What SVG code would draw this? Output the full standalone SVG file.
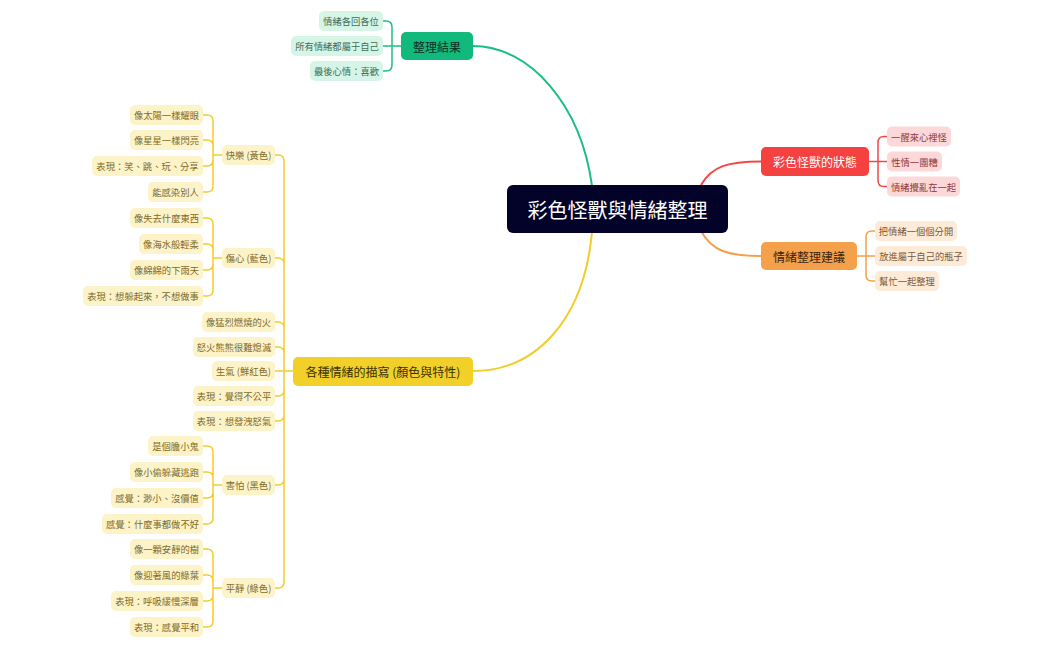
<svg xmlns="http://www.w3.org/2000/svg" width="1050" height="649" viewBox="0 0 1050 649">
<style>
text{font-family:"Noto Sans CJK TC","Noto Sans CJK SC",sans-serif;text-anchor:middle;dominant-baseline:central}
.leaf text{font-size:9.3px}
.l1 text{font-size:12px}
.yl rect{fill:#fdf3c8}.yl text{fill:#7d6a2b}
.gl rect{fill:#d6f5e7}.gl text{fill:#3e6e5a}
.rl rect{fill:#fdd8d8}.rl text{fill:#8f3a3a}
.ol rect{fill:#fdebd8}.ol text{fill:#7a5a3a}
.c{fill:none;stroke-width:1.5;stroke-linecap:round}
.main{fill:none;stroke-width:2}
</style>
<rect width="1050" height="649" fill="#ffffff"/>
<g id="connectors">
<path class="main" stroke="#1cbf82" d="M592 186 C581 105,530 46,473 46"/>
<path class="main" stroke="#f2cd2a" d="M592 232 C584 320,536 371,473 371"/>
<path class="main" stroke="#f04848" d="M701 185 C712 166,728 161.5,761 161.5"/>
<path class="main" stroke="#f5a04a" d="M701 231 C712 251,728 256,761 256"/>
<path class="c" stroke="#1cbf82" d="M401 46 H383 M392 46 V27 Q392 21 386 21 H383 M392 46 V65 Q392 71 386 71 H383"/>
<path class="c" stroke="#f04848" d="M869 161.5 H887 M878 161.5 V142.5 Q878 136.5 884 136.5 H887 M878 161.5 V180.5 Q878 186.5 884 186.5 H887"/>
<path class="c" stroke="#f5a04a" d="M857 256 H875 M866 256 V237 Q866 231 872 231 H875 M866 256 V275 Q866 281 872 281 H875"/>
<path class="c" stroke="#f2cd2a" d="M293 371 H275 M284 371 V161 Q284 155 278 155 H275 M284 371 V264 Q284 258 278 258 H275 M284 371 V328 Q284 322 278 322 H275 M284 371 V353 Q284 347 278 347 H275 M284 371 V390 Q284 396 278 396 H275 M284 371 V415 Q284 421 278 421 H275 M284 371 V479 Q284 485 278 485 H275 M284 371 V582 Q284 588 278 588 H275"/>
<path class="c" stroke="#f2cd2a" d="M222 155 H213 M213 155 V121 Q213 115 207 115 H203 M213 155 V146 Q213 140 207 140 H203 M213 155 V160 Q213 166 207 166 H203 M213 155 V186 Q213 192 207 192 H203"/>
<path class="c" stroke="#f2cd2a" d="M222 258 H213 M213 258 V224 Q213 218 207 218 H203 M213 258 V250 Q213 244 207 244 H203 M213 258 V264 Q213 270 207 270 H203 M213 258 V290 Q213 296 207 296 H203"/>
<path class="c" stroke="#f2cd2a" d="M222 485 H213 M213 485 V452 Q213 446 207 446 H203 M213 485 V478 Q213 472 207 472 H203 M213 485 V492 Q213 498 207 498 H203 M213 485 V518 Q213 524 207 524 H203"/>
<path class="c" stroke="#f2cd2a" d="M222 588 H213 M213 588 V555 Q213 549 207 549 H203 M213 588 V581 Q213 575 207 575 H203 M213 588 V595 Q213 601 207 601 H203 M213 588 V621 Q213 627 207 627 H203"/>
</g>
<g id="root"><rect x="507" y="185" width="221" height="48" rx="6" fill="#03032a"/><text x="617.5" y="209.5" font-size="20" fill="#ffffff">彩色怪獸與情緒整理</text></g>
<g id="n-result" class="l1"><rect x="401" y="32" width="72" height="28" rx="5" fill="#12b97c"/><text x="437" y="46" fill="#0d2e22">整理結果</text></g>
<g id="n-state" class="l1"><rect x="761" y="147" width="108" height="29" rx="5" fill="#f5413f"/><text x="815" y="161.5" fill="#ffffff">彩色怪獸的狀態</text></g>
<g id="n-advice" class="l1"><rect x="761" y="242" width="96" height="28" rx="5" fill="#f5a04a"/><text x="809" y="256" fill="#3a2510">情緒整理建議</text></g>
<g id="n-desc" class="l1"><rect x="293" y="357" width="180" height="29" rx="5" fill="#f1d02a"/><text x="383" y="371.5" fill="#3a3000">各種情緒的描寫 (顏色與特性)</text></g>

<g id="g1" class="leaf gl"><rect x="319" y="11" width="64" height="20" rx="5"/><text x="351" y="21">情緒各回各位</text></g>
<g id="g2" class="leaf gl"><rect x="291" y="36" width="92" height="20" rx="5"/><text x="337" y="46">所有情緒都屬于自己</text></g>
<g id="g3" class="leaf gl"><rect x="310" y="61" width="73" height="20" rx="5"/><text x="346.5" y="71">最後心情：喜歡</text></g>

<g id="r1" class="leaf rl"><rect x="887" y="126.5" width="64" height="20" rx="5"/><text x="919" y="136.5">一醒來心裡怪</text></g>
<g id="r2" class="leaf rl"><rect x="887" y="151.5" width="55" height="20" rx="5"/><text x="914.5" y="161.5">性情一團糟</text></g>
<g id="r3" class="leaf rl"><rect x="887" y="176.5" width="73" height="20" rx="5"/><text x="923.5" y="186.5">情緒攪亂在一起</text></g>

<g id="o1" class="leaf ol"><rect x="875" y="221" width="82" height="20" rx="5"/><text x="916" y="231">把情緒一個個分開</text></g>
<g id="o2" class="leaf ol"><rect x="875" y="246" width="92" height="20" rx="5"/><text x="921" y="256">放進屬于自己的瓶子</text></g>
<g id="o3" class="leaf ol"><rect x="875" y="271" width="64" height="20" rx="5"/><text x="907" y="281">幫忙一起整理</text></g>

<g id="happy" class="leaf yl"><rect x="222" y="145" width="53" height="20" rx="5"/><text x="248.5" y="155">快樂 (黃色)</text></g>
<g id="h1" class="leaf yl"><rect x="130" y="105" width="73" height="20" rx="5"/><text x="166.5" y="115">像太陽一樣耀眼</text></g>
<g id="h2" class="leaf yl"><rect x="130" y="130" width="73" height="20" rx="5"/><text x="166.5" y="140">像星星一樣閃亮</text></g>
<g id="h3" class="leaf yl"><rect x="92" y="156" width="111" height="20" rx="5"/><text x="147.5" y="166">表現：笑、跳、玩、分享</text></g>
<g id="h4" class="leaf yl"><rect x="148" y="182" width="55" height="20" rx="5"/><text x="175.5" y="192">能感染別人</text></g>

<g id="sad" class="leaf yl"><rect x="222" y="248" width="53" height="20" rx="5"/><text x="248.5" y="258">傷心 (藍色)</text></g>
<g id="s1" class="leaf yl"><rect x="130" y="208" width="73" height="20" rx="5"/><text x="166.5" y="218">像失去什麼東西</text></g>
<g id="s2" class="leaf yl"><rect x="139" y="234" width="64" height="20" rx="5"/><text x="171" y="244">像海水般輕柔</text></g>
<g id="s3" class="leaf yl"><rect x="130" y="260" width="73" height="20" rx="5"/><text x="166.5" y="270">像綿綿的下雨天</text></g>
<g id="s4" class="leaf yl"><rect x="83" y="286" width="120" height="20" rx="5"/><text x="143" y="296">表現：想躲起來，不想做事</text></g>

<g id="a1" class="leaf yl"><rect x="202" y="312" width="73" height="20" rx="5"/><text x="238.5" y="322">像猛烈燃燒的火</text></g>
<g id="a2" class="leaf yl"><rect x="193" y="337" width="82" height="20" rx="5"/><text x="234" y="347">怒火熊熊很難熄滅</text></g>
<g id="angry" class="leaf yl"><rect x="212" y="361" width="63" height="20" rx="5"/><text x="243.5" y="371">生氣 (鮮紅色)</text></g>
<g id="a3" class="leaf yl"><rect x="193" y="386" width="82" height="20" rx="5"/><text x="234" y="396">表現：覺得不公平</text></g>
<g id="a4" class="leaf yl"><rect x="193" y="411" width="82" height="20" rx="5"/><text x="234" y="421">表現：想發洩怒氣</text></g>

<g id="fear" class="leaf yl"><rect x="222" y="475" width="53" height="20" rx="5"/><text x="248.5" y="485">害怕 (黑色)</text></g>
<g id="f1" class="leaf yl"><rect x="148" y="436" width="55" height="20" rx="5"/><text x="175.5" y="446">是個膽小鬼</text></g>
<g id="f2" class="leaf yl"><rect x="130" y="462" width="73" height="20" rx="5"/><text x="166.5" y="472">像小偷躲藏逃跑</text></g>
<g id="f3" class="leaf yl"><rect x="111" y="488" width="92" height="20" rx="5"/><text x="157" y="498">感覺：渺小、沒價值</text></g>
<g id="f4" class="leaf yl"><rect x="102" y="514" width="101" height="20" rx="5"/><text x="152.5" y="524">感覺：什麼事都做不好</text></g>

<g id="calm" class="leaf yl"><rect x="222" y="578" width="53" height="20" rx="5"/><text x="248.5" y="588">平靜 (綠色)</text></g>
<g id="c1" class="leaf yl"><rect x="130" y="539" width="73" height="20" rx="5"/><text x="166.5" y="549">像一顆安靜的樹</text></g>
<g id="c2" class="leaf yl"><rect x="130" y="565" width="73" height="20" rx="5"/><text x="166.5" y="575">像迎著風的綠葉</text></g>
<g id="c3" class="leaf yl"><rect x="111" y="591" width="92" height="20" rx="5"/><text x="157" y="601">表現：呼吸緩慢深層</text></g>
<g id="c4" class="leaf yl"><rect x="130" y="617" width="73" height="20" rx="5"/><text x="166.5" y="627">表現：感覺平和</text></g>
</svg>
